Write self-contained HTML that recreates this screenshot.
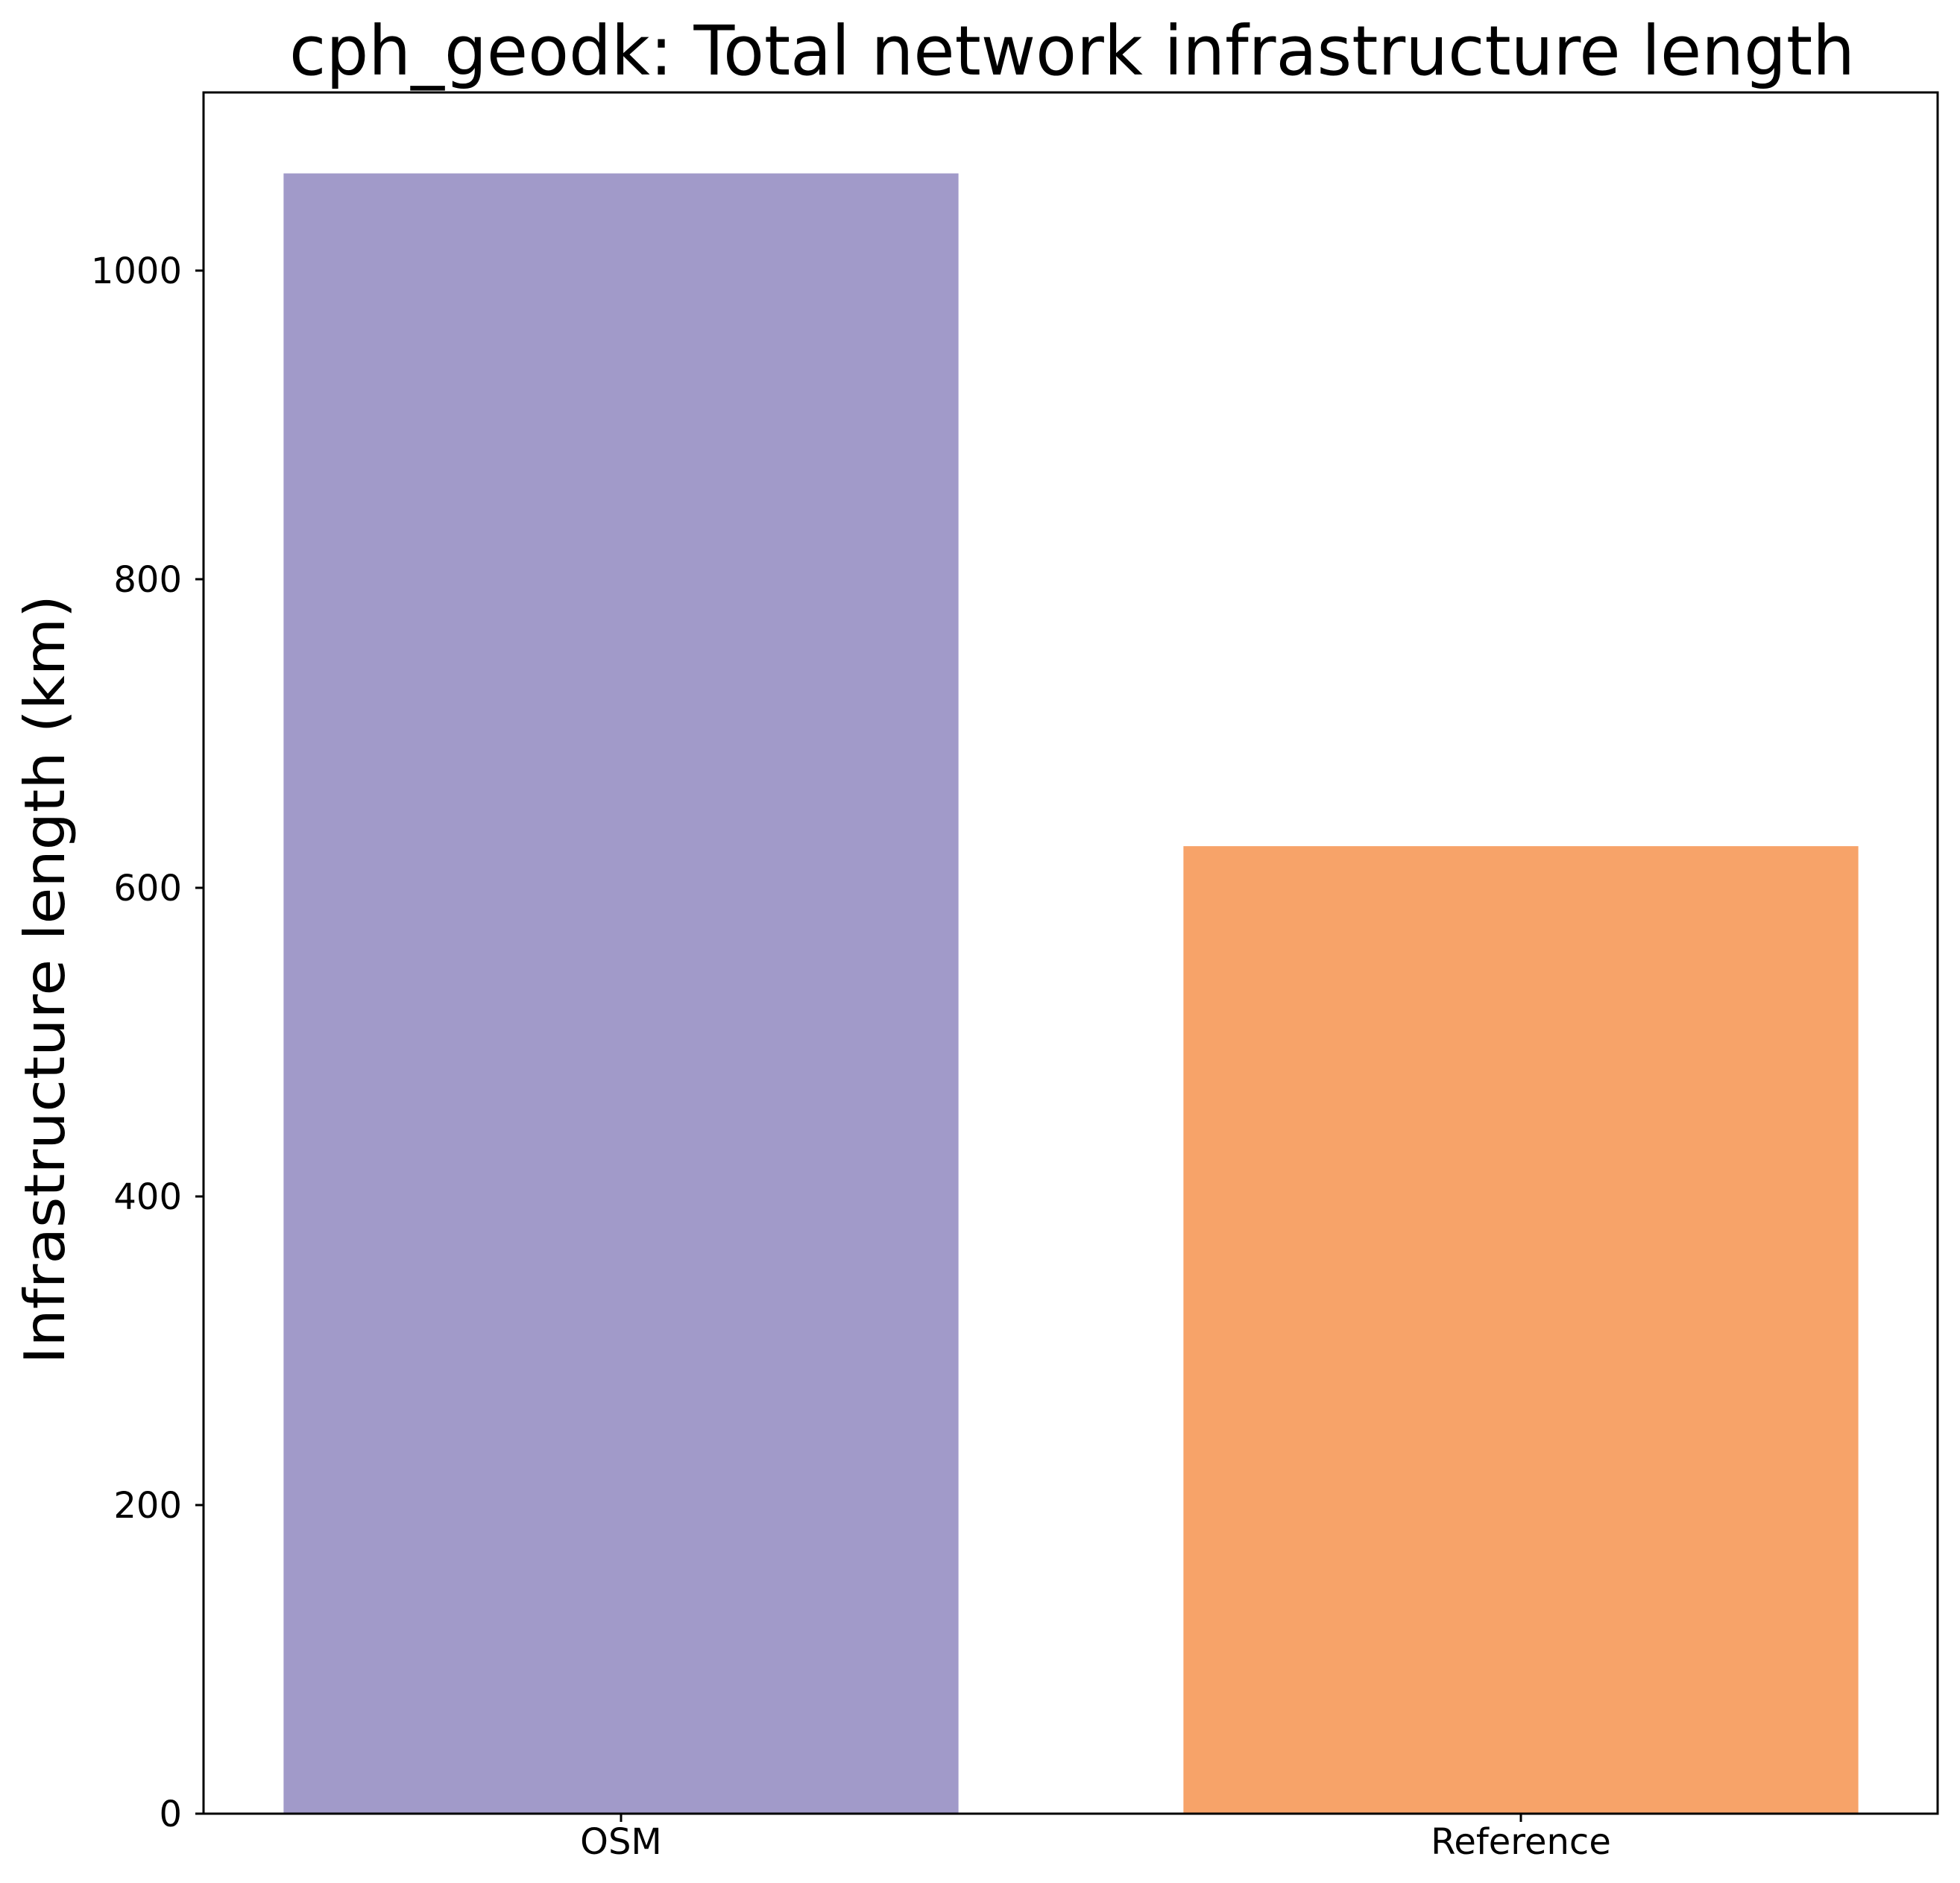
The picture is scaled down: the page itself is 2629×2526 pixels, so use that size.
<!DOCTYPE html>
<html><head><meta charset="utf-8"><style>
html,body{margin:0;padding:0;background:#fff;}
svg{display:block;font-family:"DejaVu Sans","Liberation Sans",sans-serif;}
</style></head><body>
<svg id="chart" width="2629" height="2526" viewBox="0 0 2629 2526" xmlns="http://www.w3.org/2000/svg">
<rect width="2629" height="2526" fill="#fff"/>
<text x="388" y="100" font-size="92" textLength="2100" lengthAdjust="spacingAndGlyphs" fill="#000">cph_geodk: Total network infrastructure length</text>
<text transform="translate(86,1830) rotate(-90)" font-size="75" textLength="1032" lengthAdjust="spacingAndGlyphs" fill="#000">Infrastructure length (km)</text>
<g id="bars"></g>
<g id="yticks"></g>
<g id="xticks"></g>
<rect x="273" y="124" width="2326" height="2309" fill="none" stroke="#000" stroke-width="3"/>
</svg>
<script>
const categories = ["OSM", "Reference"];
const values = [1063, 627];
const colors = ["#a19ac9", "#f7a369"];
const yTicks = [0, 200, 400, 600, 800, 1000];
const tickLabels = ["0", "200", "400", "600", "800", "1000"];

const NS = "http://www.w3.org/2000/svg";
const plotBottom = 2433, pxPer = 2.07;
function yScale(v){ return plotBottom - v * pxPer; }
function xScale(i){ return 833 + 1207 * i; }
const bandW = 0.75 * 1207;

const gb = document.getElementById('bars');
categories.forEach((c, i) => {
  const r = document.createElementNS(NS, 'rect');
  r.setAttribute('x', xScale(i) - bandW / 2);
  r.setAttribute('y', yScale(values[i]));
  r.setAttribute('width', bandW);
  r.setAttribute('height', plotBottom - yScale(values[i]));
  r.setAttribute('fill', colors[i]);
  
  
  gb.appendChild(r);
});

const gy = document.getElementById('yticks');
yTicks.forEach((t, i) => {
  const y = yScale(t);
  const l = document.createElementNS(NS, 'line');
  l.setAttribute('x1', 262); l.setAttribute('x2', 273);
  l.setAttribute('y1', y); l.setAttribute('y2', y);
  l.setAttribute('stroke', '#000'); l.setAttribute('stroke-width', 3);
  
  
  gy.appendChild(l);
  const tx = document.createElementNS(NS, 'text');
  tx.setAttribute('x', 244); tx.setAttribute('y', y + 17);
  tx.setAttribute('text-anchor', 'end');
  tx.setAttribute('font-size', 48);
  tx.textContent = tickLabels[i];
  
  
  gy.appendChild(tx);
});

const gx = document.getElementById('xticks');
categories.forEach((c, i) => {
  const x = xScale(i);
  const l = document.createElementNS(NS, 'line');
  l.setAttribute('x1', x); l.setAttribute('x2', x);
  l.setAttribute('y1', plotBottom); l.setAttribute('y2', plotBottom + 11);
  l.setAttribute('stroke', '#000'); l.setAttribute('stroke-width', 3);
  
  
  gx.appendChild(l);
  const tx = document.createElementNS(NS, 'text');
  tx.setAttribute('x', x); tx.setAttribute('y', 2487);
  tx.setAttribute('text-anchor', 'middle');
  tx.setAttribute('font-size', 48);
  tx.textContent = c;
  
  
  gx.appendChild(tx);
});
</script>
</body></html>
